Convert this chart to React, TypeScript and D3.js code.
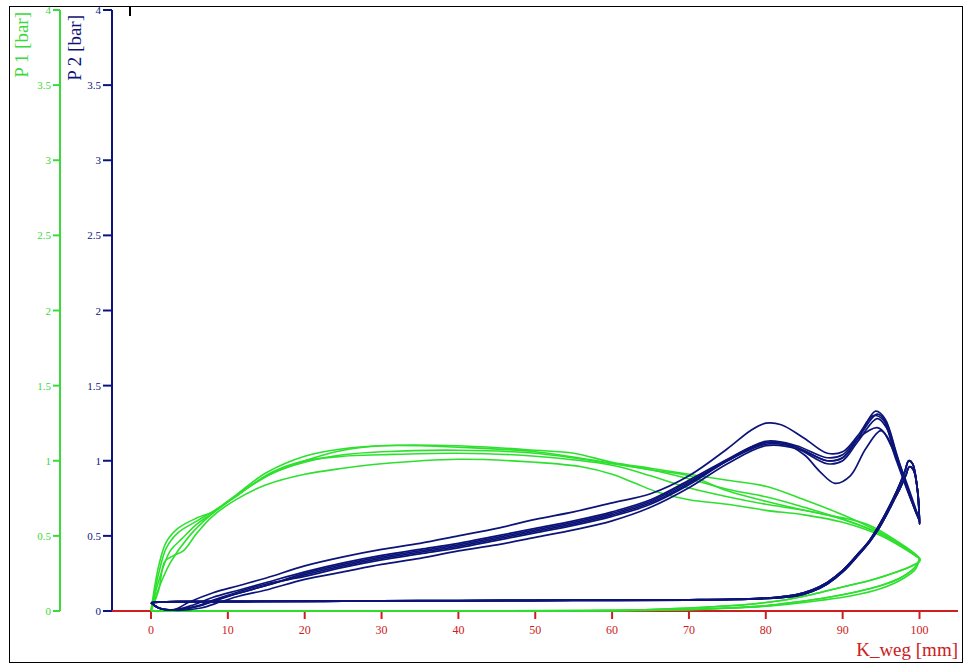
import React from "react";
import * as d3 from "d3";

// ---- data ----
const xTicks = [0, 10, 20, 30, 40, 50, 60, 70, 80, 90, 100];
const yTicks = [0, 0.5, 1, 1.5, 2, 2.5, 3, 3.5, 4];
const xTitle = "K_weg [mm]";
const y1Title = "P 1 [bar]";
const y2Title = "P 2 [bar]";

// P1 (green) forward strokes
const green1: [number, number][] = [[0,0],[1,0.25],[2,0.42],[3.5,0.52],[6,0.6],[8,0.66],[11,0.76],[15,0.9],[20,1.0],[25,1.07],[30,1.1],[40,1.1],[50,1.07],[55,1.05],[60,0.99],[65,0.95],[70,0.91],[75,0.87],[80,0.83],[85,0.74],[90,0.64],[95,0.52],[98,0.43],[100,0.35]];
const green2: [number, number][] = [[0,0],[1,0.3],[2,0.46],[3.5,0.55],[6,0.62],[8,0.66],[11,0.77],[15,0.92],[20,1.03],[25,1.08],[30,1.1],[35,1.1],[40,1.09],[50,1.06],[58,1.0],[65,0.94],[70,0.9],[75,0.8],[80,0.73],[85,0.67],[90,0.62],[93,0.58],[96,0.5],[100,0.35]];
const green3: [number, number][] = [[0,0],[1,0.15],[2.5,0.32],[5,0.5],[8,0.65],[12,0.8],[16,0.93],[20,1.0],[25,1.03],[30,1.04],[40,1.05],[50,1.03],[60,0.97],[65,0.9],[70,0.82],[75,0.76],[80,0.71],[85,0.67],[90,0.61],[95,0.51],[100,0.35]];
const green4: [number, number][] = [[0,0],[1,0.14],[1.8,0.33],[3,0.37],[4.2,0.4],[6,0.52],[8,0.63],[11,0.74],[15,0.84],[20,0.91],[25,0.95],[30,0.98],[40,1.01],[50,0.99],[56,0.96],[60,0.91],[63,0.85],[66,0.79],[70,0.74],[75,0.71],[80,0.67],[85,0.64],[90,0.59],[95,0.5],[100,0.35]];
const green5: [number, number][] = [[0,0],[1,0.2],[2.5,0.4],[4,0.48],[6,0.58],[8,0.65],[12,0.8],[16,0.92],[20,0.99],[25,1.04],[30,1.06],[40,1.07],[50,1.05],[60,0.98],[65,0.94],[70,0.88],[75,0.81],[80,0.76],[85,0.69],[90,0.61],[95,0.51],[100,0.35]];
// P1 return strokes
const greenBackA: [number, number][] = [[100,0.35],[99.7,0.31],[99,0.27],[97.5,0.22],[95,0.17],[92,0.13],[88,0.09],[84,0.06],[80,0.035],[75,0.02],[68,0.008],[60,0.002],[45,0],[25,0],[8,0],[2,0],[0,0]];
const greenBackB: [number, number][] = [[100,0.33],[99,0.3],[97,0.26],[94,0.21],[90,0.16],[86,0.11],[82,0.07],[78,0.045],[72,0.025],[65,0.01],[55,0.003],[40,0],[15,0],[0,0]];
const greenBackC: [number, number][] = [[100,0.35],[99.5,0.28],[98,0.22],[95,0.15],[91,0.1],[87,0.07],[83,0.045],[78,0.025],[72,0.012],[62,0.004],[50,0],[20,0],[0,0]];

// P2 (navy) forward strokes
const blue1: [number, number][] = [[0,0.055],[1,0.02],[3,0.01],[5,0.06],[8,0.12],[11.5,0.17],[15,0.22],[20,0.3],[25,0.36],[30,0.41],[35,0.45],[40,0.5],[45,0.55],[50,0.61],[55,0.66],[60,0.72],[65,0.78],[70,0.9],[75,1.08],[78,1.2],[80,1.25],[82,1.24],[85,1.15],[88,1.05],[90,1.06],[92,1.17],[94,1.3],[95.3,1.27],[96.5,1.1],[98,0.9],[99.5,0.68],[100,0.6]];
const blue2: [number, number][] = [[0,0.055],[1,0.02],[3,0.008],[5.5,0.04],[8,0.09],[11.5,0.14],[15,0.19],[20,0.26],[25,0.32],[30,0.37],[35,0.41],[40,0.45],[45,0.5],[50,0.55],[55,0.6],[60,0.66],[65,0.74],[70,0.87],[75,1.01],[78,1.09],[80,1.12],[82,1.12],[85,1.04],[87,0.93],[89,0.85],[91,0.9],[93,1.08],[95,1.2],[96.3,1.1],[98,0.88],[99.5,0.66],[100,0.6]];
const blue3: [number, number][] = [[0,0.055],[1,0.02],[3,0.007],[6,0.03],[8.5,0.07],[11.5,0.12],[15,0.17],[20,0.24],[25,0.3],[30,0.35],[35,0.39],[40,0.43],[45,0.48],[50,0.53],[55,0.58],[60,0.64],[65,0.72],[70,0.85],[75,1.0],[80,1.12],[83,1.11],[86,1.04],[88,1.0],[90,1.02],[92,1.15],[94.3,1.33],[95.5,1.28],[97,1.05],[98.5,0.8],[100,0.6]];
const blue4: [number, number][] = [[0,0.055],[1,0.02],[3,0.005],[6.5,0.02],[9,0.06],[11.5,0.1],[15,0.14],[20,0.21],[25,0.26],[30,0.31],[35,0.35],[40,0.4],[45,0.44],[50,0.49],[55,0.54],[60,0.6],[65,0.69],[70,0.82],[75,0.98],[80,1.1],[84,1.08],[88,0.98],[90,1.0],[92,1.13],[94.5,1.28],[95.7,1.22],[97,1.02],[98.5,0.8],[100,0.6]];
const blue5: [number, number][] = [[0,0.055],[1,0.02],[3,0.008],[6,0.035],[8.5,0.08],[11.5,0.13],[15,0.18],[20,0.23],[25,0.29],[30,0.34],[35,0.38],[40,0.42],[45,0.47],[50,0.52],[55,0.57],[60,0.63],[65,0.71],[70,0.84],[75,1.0],[80,1.13],[84,1.1],[88,1.02],[90,1.04],[92,1.15],[94.5,1.22],[95.8,1.16],[97,1.0],[98.5,0.79],[100,0.6]];
const blue6: [number, number][] = [[0,0.055],[1,0.02],[3,0.007],[6,0.03],[8.5,0.075],[11.5,0.12],[15,0.17],[20,0.25],[25,0.31],[30,0.36],[35,0.4],[40,0.44],[45,0.49],[50,0.54],[55,0.59],[60,0.65],[65,0.73],[70,0.86],[75,1.0],[80,1.11],[84,1.09],[88,1.0],[90,1.02],[92,1.15],[94.5,1.31],[95.6,1.26],[97,1.04],[98.5,0.8],[100,0.6]];
// P2 return strokes
const blueBackA: [number, number][] = [[100,0.6],[99.7,0.82],[99.1,0.98],[98.6,1.0],[98.1,0.93],[97.4,0.84],[96.5,0.74],[95.5,0.64],[94.5,0.55],[93.5,0.47],[92,0.38],[90,0.27],[88,0.19],[86,0.14],[84,0.11],[81,0.09],[77,0.08],[70,0.075],[55,0.072],[40,0.07],[25,0.066],[12,0.064],[4,0.063],[1,0.06],[0,0.055]];
const blueBackB: [number, number][] = [[100,0.58],[99.8,0.78],[99.2,0.94],[98.7,0.96],[98.2,0.9],[97.5,0.82],[96.6,0.73],[95.6,0.63],[94.6,0.54],[93.5,0.46],[92,0.37],[90,0.26],[88,0.18],[86,0.13],[84,0.1],[81,0.085],[77,0.078],[70,0.073],[55,0.07],[40,0.068],[25,0.065],[12,0.063],[4,0.062],[1,0.059],[0,0.055]];

const greenCycles = [
  green1.concat(greenBackA),
  green2.concat(greenBackB),
  green3.concat(greenBackC),
  green4.concat(greenBackA),
  green5.concat(greenBackB),
];
const blueCycles = [
  blue1.concat(blueBackA),
  blue2.concat(blueBackB),
  blue3.concat(blueBackA),
  blue4.concat(blueBackB),
  blue5.concat(blueBackA),
  blue6.concat(blueBackB),
];

const GREEN = "#2ee02e";
const GREEN_AXIS = "#3cd83c";
const NAVY = "#0c1478";
const RED = "#cc2020";
const FONT = "'Liberation Serif', 'Times New Roman', serif";

export default function App() {
  const x = d3.scaleLinear().domain([0, 100]).range([151, 919.5]);
  const y = d3.scaleLinear().domain([0, 4]).range([611, 10]);
  const line = d3
    .line<[number, number]>()
    .x((d) => x(d[0]))
    .y((d) => y(d[1]))
    .curve(d3.curveCatmullRom.alpha(0.5));

  const gx = 60;
  const bx = 112;

  return (
    <svg
      width={967}
      height={671}
      style={{ position: "absolute", left: 0, top: 0, background: "#fff" }}
      fontFamily={FONT}
    >
      <rect x={0} y={0} width={967} height={671} fill="#fff" />
      <rect x={9.5} y={6.5} width={953} height={656} fill="none" stroke="#000" strokeWidth={1} />
      <line x1={130} x2={130} y1={6} y2={16} stroke="#000" strokeWidth={2} />

      {/* green P1 axis */}
      <line x1={gx} x2={gx} y1={y(4)} y2={y(0)} stroke={GREEN_AXIS} strokeWidth={2} />
      {yTicks.map((t) => (
        <g key={"g" + t}>
          <line x1={gx - 7} x2={gx} y1={y(t)} y2={y(t)} stroke={GREEN_AXIS} strokeWidth={2} />
          <text x={gx - 9} y={y(t) + 4} fontSize={11} fill={GREEN_AXIS} textAnchor="end">
            {String(t)}
          </text>
        </g>
      ))}
      <text
        transform={`translate(28,12) rotate(-90)`}
        textAnchor="end"
        fontSize={19}
        fill={GREEN_AXIS}
      >
        {y1Title}
      </text>

      {/* navy P2 axis */}
      <line x1={bx} x2={bx} y1={y(4)} y2={y(0)} stroke={NAVY} strokeWidth={2} />
      {yTicks.map((t) => (
        <g key={"b" + t}>
          <line x1={bx - 9} x2={bx} y1={y(t)} y2={y(t)} stroke={NAVY} strokeWidth={2} />
          <text x={bx - 11} y={y(t) + 4} fontSize={11} fill={NAVY} textAnchor="end">
            {String(t)}
          </text>
        </g>
      ))}
      <text
        transform={`translate(81,15) rotate(-90)`}
        textAnchor="end"
        fontSize={19}
        fill={NAVY}
      >
        {y2Title}
      </text>

      {/* x axis */}
      <line x1={bx} x2={958} y1={y(0)} y2={y(0)} stroke={RED} strokeWidth={2} />
      {xTicks.map((t) => (
        <g key={"x" + t}>
          <line x1={x(t)} x2={x(t)} y1={y(0)} y2={y(0) + 8} stroke={RED} strokeWidth={2} />
          <text x={x(t)} y={y(0) + 23} fontSize={12} fill={RED} textAnchor="middle">
            {String(t)}
          </text>
        </g>
      ))}
      <text x={958} y={656} fontSize={19} fill={RED} textAnchor="end">
        {xTitle}
      </text>

      {/* data */}
      {greenCycles.map((c, i) => (
        <path key={"gc" + i} d={line(c) || ""} fill="none" stroke={GREEN} strokeWidth={1.6} />
      ))}
      {blueCycles.map((c, i) => (
        <path key={"bc" + i} d={line(c) || ""} fill="none" stroke={NAVY} strokeWidth={1.7} />
      ))}
    </svg>
  );
}
